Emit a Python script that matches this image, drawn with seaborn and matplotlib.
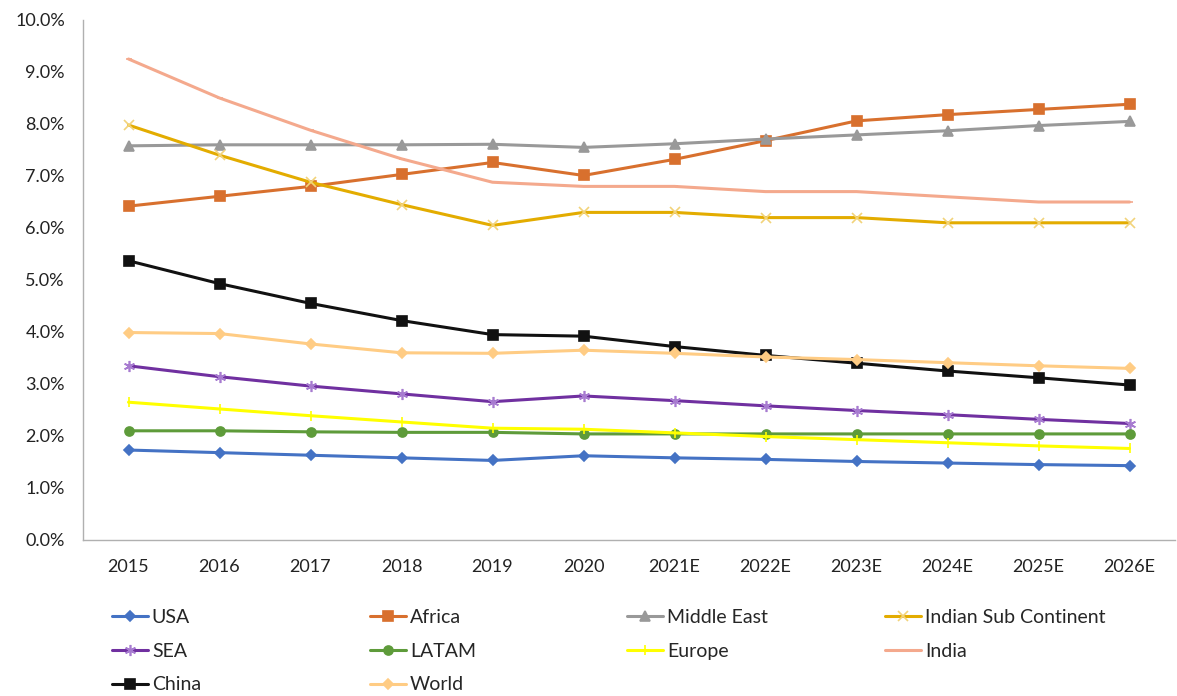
import matplotlib
matplotlib.use('Agg')
import matplotlib.pyplot as plt
from matplotlib.ticker import FixedLocator, FuncFormatter
import seaborn as sns

#############################################################################
# data (growth rate, %)
years = ['2015', '2016', '2017', '2018', '2019', '2020',
         '2021E', '2022E', '2023E', '2024E', '2025E', '2026E']

usa = [1.73, 1.68, 1.63, 1.58, 1.53, 1.62, 1.58, 1.55, 1.51, 1.48, 1.45, 1.43]
africa = [6.42, 6.61, 6.80, 7.03, 7.26, 7.01, 7.32, 7.68, 8.06, 8.18, 8.28, 8.38]
middle_east = [7.58, 7.60, 7.60, 7.60, 7.61, 7.55, 7.62, 7.71, 7.79, 7.87, 7.97, 8.05]
indian_sub = [7.98, 7.40, 6.88, 6.45, 6.05, 6.30, 6.30, 6.20, 6.20, 6.10, 6.10, 6.10]
sea = [3.35, 3.14, 2.96, 2.81, 2.66, 2.77, 2.68, 2.58, 2.49, 2.41, 2.32, 2.24]
latam = [2.10, 2.10, 2.08, 2.07, 2.07, 2.04, 2.04, 2.04, 2.04, 2.04, 2.04, 2.04]
europe = [2.65, 2.52, 2.39, 2.27, 2.15, 2.13, 2.06, 1.99, 1.93, 1.87, 1.81, 1.76]
india = [9.25, 8.50, 7.88, 7.33, 6.88, 6.80, 6.80, 6.70, 6.70, 6.60, 6.50, 6.50]
china = [5.37, 4.93, 4.55, 4.22, 3.95, 3.92, 3.72, 3.55, 3.40, 3.25, 3.12, 2.98]
world = [3.99, 3.97, 3.77, 3.60, 3.59, 3.65, 3.59, 3.52, 3.47, 3.41, 3.35, 3.30]

series_names = ['USA', 'Africa', 'Middle East', 'Indian Sub Continent',
                'SEA', 'LATAM', 'Europe', 'India', 'China', 'World']
series_values = [usa, africa, middle_east, indian_sub,
                 sea, latam, europe, india, china, world]

# line colour, marker, marker size, marker colour
styles = {
    'USA': ('#4472C4', 'D', 5, '#4472C4'),
    'Africa': ('#D8702E', 's', 6.5, '#D8702E'),
    'Middle East': ('#999999', '^', 7, '#999999'),
    'Indian Sub Continent': ('#E3AC00', 'x', 7, '#F2D37A'),
    'SEA': ('#7030A0', (6, 2, 0), 8, '#A77BD0'),
    'LATAM': ('#5E9B3A', 'o', 6.5, '#5E9B3A'),
    'Europe': ('#FFFF00', '|', 7, '#FFFF00'),
    'India': ('#F4A98D', '_', 5, '#F4A98D'),
    'China': ('#111111', 's', 6.5, '#111111'),
    'World': ('#FFCC84', 'D', 5.5, '#FFCC84'),
}

sns.set_style('white')
plt.rcParams['font.family'] = ['Lato', 'DejaVu Sans']
plt.rcParams['font.size'] = 13

fig = plt.figure(figsize=(11.77, 6.96), dpi=100)
W, H = 1177, 696
ax = fig.add_axes([83 / W, 1 - 540 / H, (1175 - 83) / W, 520 / H])

for name, vals in zip(series_names, series_values):
    col, mk, ms, mcol = styles[name]
    sns.lineplot(x=years, y=vals, ax=ax, color=col, marker=mk, markersize=ms,
                 markerfacecolor=mcol, markeredgecolor=mcol, markeredgewidth=1.2,
                 linewidth=2.2, sort=False, label=name)

handles, labels = ax.get_legend_handles_labels()
if ax.get_legend() is not None:
    ax.get_legend().remove()

# axes look (excel style)
ax.set_xlim(-0.5, len(years) - 0.5)
ax.set_ylim(0, 10)
ax.yaxis.set_major_locator(FixedLocator([i for i in range(11)]))
ax.yaxis.set_major_formatter(FuncFormatter(lambda v, p: f'{v:.1f}%'))
ax.xaxis.set_minor_locator(FixedLocator([i - 0.5 for i in range(len(years) + 1)]))
ax.tick_params(axis='x', which='major', length=0, pad=14, labelsize=13, labelcolor='#222222')
ax.tick_params(axis='x', which='minor', length=6, width=1, color='#B0B0B0', direction='out')
ax.tick_params(axis='y', which='major', length=5, width=1, color='#B0B0B0', pad=8,
               labelsize=13, labelcolor='#222222')
sns.despine(ax=ax)
for s in ['left', 'bottom']:
    ax.spines[s].set_color('#B0B0B0')
    ax.spines[s].set_linewidth(1)
ax.set_xlabel('')
ax.set_ylabel('')

# legend: four separate columns so they line up like excel
col_x = [112, 370, 627, 885]
for c in range(4):
    lg = fig.legend(handles[c::4], labels[c::4], loc='upper left',
                    bbox_to_anchor=(col_x[c] / W, 1 - 609 / H), frameon=False,
                    borderpad=0, borderaxespad=0, handlelength=1.85,
                    handletextpad=0.2, labelspacing=0.86, fontsize=14)

fig.savefig('out.png', dpi=100)
